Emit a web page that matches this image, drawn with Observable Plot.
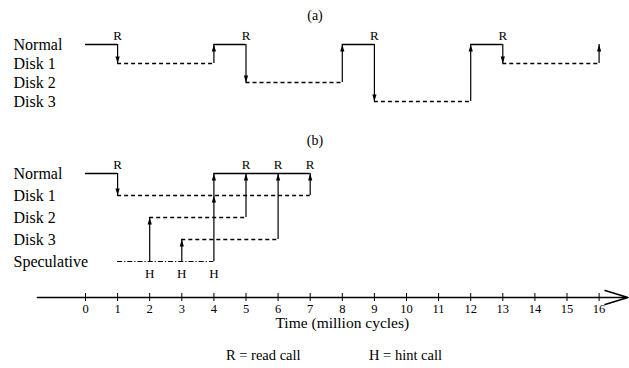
<!DOCTYPE html>
<html>
<head>
<meta charset="utf-8">
<script src="https://cdn.jsdelivr.net/npm/d3@7"></script>
<script src="https://cdn.jsdelivr.net/npm/@observablehq/plot@0.6"></script>
<style>
  html, body { margin: 0; padding: 0; background: #fff; }
  #chart { width: 629px; font-family: "Liberation Serif", "Times New Roman", Times, "DejaVu Serif", serif; color: #000; }
  #chart svg { display: block; }
  #legend { position: relative; height: 32px; font-size: 14.5px; line-height: 16px; }
  #legend span { position: absolute; top: 11px; white-space: nowrap; }
</style>
</head>
<body>
<div id="chart"></div>
<script>
// ---------- data ----------
const timeDomain = [0, 16];
const timeTicks = [0, 1, 2, 3, 4, 5, 6, 7, 8, 9, 10, 11, 12, 13, 14, 15, 16];
const axisExtent = [-1.5, 16.9];
const xLabel = "Time (million cycles)";

// panel (a)
const rowsA = ["Normal", "Disk 1", "Disk 2", "Disk 3"];
const aComputeStart = [0, 4, 8, 12];
const aComputeEnd = [1, 5, 9, 13];
const aReadTimes = [1, 5, 9, 13];
const aReadDisk = ["Disk 1", "Disk 2", "Disk 3", "Disk 1"];
const aDoneTimes = [4, 8, 12, 16];

// panel (b)
const rowsB = ["Normal", "Disk 1", "Disk 2", "Disk 3", "Speculative"];
const bComputeStart = [0, 4];
const bComputeEnd = [1, 7];
const bReadTimes = [1, 5, 6, 7];
const bHintTimes = [2, 3, 4];
const bDiskRows = ["Disk 1", "Disk 2", "Disk 3"];
const bDiskStart = [1, 2, 3];
const bDiskEnd = [7, 5, 6];
const bSpecStart = [1];
const bSpecEnd = [4];
const bArrowT = [1, 2, 3, 4, 5, 6, 7];
const bArrowFrom = ["Normal", "Speculative", "Speculative", "Speculative", "Disk 2", "Disk 3", "Disk 1"];
const bArrowTo = ["Disk 1", "Disk 2", "Disk 3", "Normal", "Normal", "Normal", "Normal"];
const bExtraHeadT = [4];
const bExtraHeadRow = ["Disk 1"];

const legendItems = ["R = read call", "H = hint call"];

// ---------- helpers ----------
const FONT = "'Liberation Serif', 'Times New Roman', Times, 'DejaVu Serif', serif";
const headUp = { draw(ctx) { ctx.moveTo(0, 0); ctx.lineTo(-2.1, 7); ctx.lineTo(2.1, 7); ctx.closePath(); } };
const headDown = { draw(ctx) { ctx.moveTo(0, 0); ctx.lineTo(-2.1, -7); ctx.lineTo(2.1, -7); ctx.closePath(); } };

function segs(rows, starts, ends) {
  return starts.map((s, i) => ({ row: Array.isArray(rows) ? rows[i] : rows, start: s, end: ends[i] }));
}

function panel({ rows, yRange, height, title, titleDy, normal, disks, spec, arrows, heads, reads, hints }) {
  return Plot.plot({
    width: 629, height,
    marginLeft: 0, marginRight: 0, marginTop: 0, marginBottom: 0,
    style: { fontFamily: FONT, background: "white", color: "black", overflow: "visible" },
    x: { domain: timeDomain, range: [85, 598.6], axis: null },
    y: { type: "point", domain: rows, range: yRange, padding: 0, axis: null },
    marks: [
      Plot.text([title], { frameAnchor: "top", dy: titleDy, fontSize: 14, fill: "black", fontFamily: FONT }),
      Plot.text(rows, { y: d => d, frameAnchor: "left", dx: 13, textAnchor: "start", fontSize: 16, fill: "black", fontFamily: FONT }),
      Plot.ruleY(normal, { y: "row", x1: "start", x2: "end", stroke: "black", strokeWidth: 1.4 }),
      Plot.ruleY(disks, { y: "row", x1: "start", x2: "end", stroke: "black", strokeWidth: 1.4, strokeDasharray: "4,3" }),
      Plot.ruleY(spec, { y: "row", x1: "start", x2: "end", stroke: "black", strokeWidth: 1.2, strokeDasharray: "5,2,1.2,2" }),
      Plot.ruleX(arrows, { x: "t", y1: "from", y2: "to", stroke: "black", strokeWidth: 1.2 }),
      Plot.dot(heads.filter(h => h.dir === "up"), { x: "t", y: "row", symbol: headUp, fill: "black", stroke: "none" }),
      Plot.dot(heads.filter(h => h.dir === "down"), { x: "t", y: "row", symbol: headDown, fill: "black", stroke: "none" }),
      Plot.text(reads, { x: d => d, y: () => "Normal", dy: -9, text: () => "R", fontSize: 13, fill: "black", fontFamily: FONT }),
      Plot.text(hints, { x: d => d, y: () => "Speculative", dy: 12, text: () => "H", fontSize: 13, fill: "black", fontFamily: FONT })
    ]
  });
}

function headsFor(rows, arrows) {
  return arrows.map(a => ({ t: a.t, row: a.to, dir: rows.indexOf(a.to) > rows.indexOf(a.from) ? "down" : "up" }));
}

// ---------- panel (a) ----------
const aArrows = [
  ...aReadTimes.map((t, i) => ({ t, from: "Normal", to: aReadDisk[i] })),
  ...aDoneTimes.map((t, i) => ({ t, from: aReadDisk[i], to: "Normal" }))
];
const panelA = panel({
  rows: rowsA, yRange: [44, 101], height: 118, title: "(a)", titleDy: 10,
  normal: segs("Normal", aComputeStart, aComputeEnd),
  disks: segs(aReadDisk, aReadTimes, aDoneTimes),
  spec: [],
  arrows: aArrows,
  heads: headsFor(rowsA, aArrows),
  reads: aReadTimes, hints: []
});

// ---------- panel (b) ----------
const bArrows = bArrowT.map((t, i) => ({ t, from: bArrowFrom[i], to: bArrowTo[i] }));
const bHeads = [
  ...headsFor(rowsB, bArrows),
  ...bExtraHeadT.map((t, i) => ({ t, row: bExtraHeadRow[i], dir: "up" }))
];
const panelB = panel({
  rows: rowsB, yRange: [54, 143], height: 162, title: "(b)", titleDy: 17,
  normal: segs("Normal", bComputeStart, bComputeEnd),
  disks: segs(bDiskRows, bDiskStart, bDiskEnd),
  spec: segs("Speculative", bSpecStart, bSpecEnd),
  arrows: bArrows,
  heads: bHeads,
  reads: bReadTimes, hints: bHintTimes
});

// ---------- time axis ----------
const axis = Plot.plot({
  width: 629, height: 56,
  marginLeft: 37, marginRight: 2, marginTop: 0, marginBottom: 0,
  style: { fontFamily: FONT, background: "white", color: "black", overflow: "visible" },
  x: { domain: timeDomain, range: [85, 598.6], axis: null },
  y: { domain: [-1, 1], range: [13, 21], axis: null },
  marks: [
    Plot.arrow([axisExtent], { x1: d => d[0], x2: d => d[1], y1: () => 0, y2: () => 0,
      stroke: "black", strokeWidth: 1.5, headLength: 24, headAngle: 34 }),
    Plot.ruleX(timeTicks, { x: d => d, y1: () => -1, y2: () => 1, stroke: "black", strokeWidth: 1 }),
    Plot.text(timeTicks, { x: d => d, y: () => 1, dy: 7, text: d => String(d), fontSize: 12.5, fill: "black", fontFamily: FONT }),
    Plot.text([xLabel], { x: () => d3.mean(timeDomain), y: () => 1, dy: 22, fontSize: 15.5, fill: "black", fontFamily: FONT })
  ]
});

const chart = document.getElementById("chart");
chart.append(panelA, panelB, axis);

const legend = document.createElement("div");
legend.id = "legend";
const legendLeft = [226, 369];
legendItems.forEach((txt, i) => {
  const s = document.createElement("span");
  s.textContent = txt;
  s.style.left = legendLeft[i] + "px";
  legend.append(s);
});
chart.append(legend);
</script>
</body>
</html>
